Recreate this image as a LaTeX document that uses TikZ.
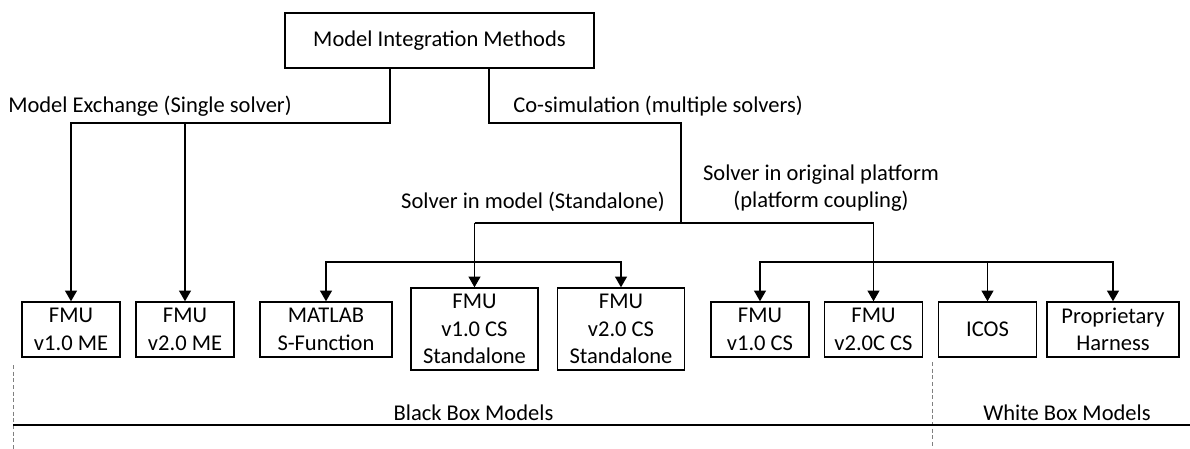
\documentclass[tikz,border=0pt]{standalone}
\usepackage{fontspec}
\setmainfont{Carlito}
\usepackage{tikz}
\usetikzlibrary{positioning, arrows.meta}

\begin{document}
\begin{tikzpicture}[x=0.75pt, y=-0.75pt,
		every node/.style={font=\fontsize{16.9}{20.5}\selectfont},
		box/.style={draw, line width=1.1pt, align=center, inner sep=0pt, minimum width=73.5pt, minimum height=41.25pt},
		widebox/.style={box, minimum width=99pt},
		tallbox/.style={box, minimum width=95.5pt, minimum height=61.5pt},
		link/.style={line width=0.8pt},
		arrow/.style={link, -{Triangle[width=9pt, length=8pt]}},
		divider/.style={gray, line width=0.5pt, dash pattern=on 3pt off 2pt}]
		
		\useasboundingbox (0,0) rectangle (1190,449);
		
		% Root
		\node[box, minimum width=231.75pt] (root) at (439.5,40.5) {Model Integration Methods};
		
		% Leaves
		\node[box] (fmuAme) at (71,329.5) {FMU\\v1.0 ME};
		\node[box] (fmuBme) at (185,329.5) {FMU\\v2.0 ME};
		\node[widebox] (matlab) at (326,329.5) {MATLAB\\S-Function};
		\node[tallbox] (fmuAcsSa) at (474.5,329) {FMU\\v1.0 CS\\Standalone};
		\node[tallbox] (fmuBcsSa) at (621,329) {FMU\\v2.0 CS\\Standalone};
		\node[box] (fmuAcs) at (760,329.5) {FMU\\v1.0 CS};
		\node[box] (fmuBcs) at (873.5,329.5) {FMU\\v2.0C CS};
		\node[box] (icos) at (987.5,329.5) {ICOS};
		\node[widebox] (harness) at (1113,329.5) {Proprietary\\Harness};
		
		% Branch labels
		\node[anchor=west, inner sep=0pt] (meLabel) at (8,106) {Model Exchange (Single solver)};
		\node[anchor=west, inner sep=0pt] (csLabel) at (513,106) {Co-simulation (multiple solvers)};
		\node[anchor=east, inner sep=0pt] (saLabel) at (665,202) {Solver in model (Standalone)};
		\node[align=center, inner sep=0pt] (pcLabel) at (821,188) {Solver in original platform\\(platform coupling)};
		
		% Junctions
		\coordinate (meTop) at (390,68);
		\coordinate (meBus) at (390,123);
		\coordinate (csTop) at (489,68);
		\coordinate (csBus) at (681,123);
		\coordinate (csSplit) at (681,223);
		\coordinate (saBus) at (0,262);
		\coordinate (pcBus) at (0,262);
		
		% Model exchange
		\draw[arrow] (meTop) -- (meBus) -| (fmuAme.north);
		\draw[arrow] (fmuBme.north |- meBus) -- (fmuBme.north);
		
		% Co-simulation
		\draw[link] (csTop) |- (csBus) -- (csSplit);
		\draw[link] (fmuAcsSa.north |- csSplit) -- (fmuBcs.north |- csSplit);
		\draw[arrow] (fmuAcsSa.north |- csSplit) -- (fmuAcsSa.north);
		\draw[arrow] (fmuBcs.north |- csSplit) -- (fmuBcs.north);
		
		% Standalone
		\draw[arrow] (fmuAcsSa.north |- saBus) -| (matlab.north);
		\draw[arrow] (fmuAcsSa.north |- saBus) -| (fmuBcsSa.north);
		
		% Platform coupling
		\draw[arrow] (fmuBcs.north |- pcBus) -| (fmuAcs.north);
		\draw[arrow] (fmuBcs.north |- pcBus) -| (harness.north);
		\draw[arrow] (icos.north |- pcBus) -- (icos.north);
		
		% Model classes
		\draw[divider] (13,365) -- (13,449);
		\draw[divider] (932,362) -- (932,449);
		\draw[line width=1pt] (13,425) -- (1190,425);
		\node (blackLabel) at (473.5,413) {Black Box Models};
		\node (whiteLabel) at (1067,413) {White Box Models};
		
	\end{tikzpicture}
\end{document}
